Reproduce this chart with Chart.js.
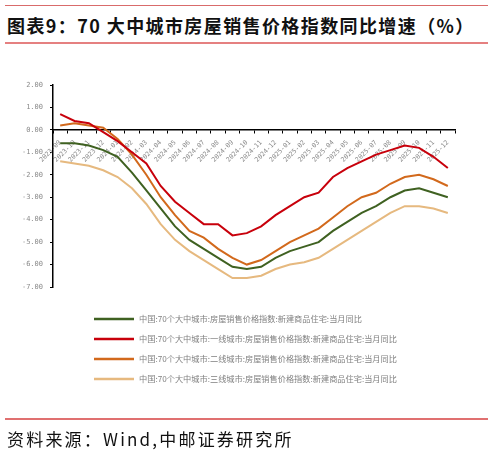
<!DOCTYPE html>
<html lang="zh-CN">
<head>
  <meta charset="UTF-8" />
  <title>图表9：70 大中城市房屋销售价格指数同比增速（%）</title>
  <script src="https://cdn.jsdelivr.net/npm/chart.js"></script>
  <style>
    body {
      margin: 0;
      padding: 0;
      background: #fff;
      font-family: "Noto Sans CJK SC", sans-serif;
    }
    .page {
      position: relative;
      width: 494px;
      height: 454px;
      overflow: hidden;
    }
    .rule {
      position: absolute;
      left: 5px;
      right: 6px;
    }
    .rule-top { top: 5px; border-top: 1px solid #d96b6b; }
    .rule-title { top: 42px; border-top: 2px solid #e58080; }
    .rule-src { top: 418px; border-top: 2px solid #e07070; }
    .title {
      position: absolute;
      left: 7px;
      top: 11px;
      font-size: 18px;
      font-weight: bold;
      letter-spacing: 1.4px;
      line-height: 28px;
      color: #111;
      white-space: nowrap;
    }
    .source {
      position: absolute;
      left: 7px;
      top: 427px;
      font-size: 17px;
      letter-spacing: 2.2px;
      line-height: 24px;
      color: #111;
      white-space: nowrap;
    }
    #chart {
      position: absolute;
      left: 0;
      top: 0;
    }
  </style>
</head>
<body>
  <div class="page">
    <div class="rule rule-top"></div>
    <div class="title">图表9：70 大中城市房屋销售价格指数同比增速（%）</div>
    <div class="rule rule-title"></div>
    <canvas id="chart" width="494" height="454"></canvas>
    <div class="rule rule-src"></div>
    <div class="source">资料来源：Wind,中邮证券研究所</div>
  </div>

  <script>
    const months = [
      '2023-09', '2023-10', '2023-11', '2023-12',
      '2024-01', '2024-02', '2024-03', '2024-04', '2024-05', '2024-06',
      '2024-07', '2024-08', '2024-09', '2024-10', '2024-11', '2024-12',
      '2025-01', '2025-02', '2025-03', '2025-04', '2025-05', '2025-06',
      '2025-07', '2025-08', '2025-09', '2025-10', '2025-11', '2025-12'
    ];

    const cities70 = [-0.6, -0.6, -0.7, -0.9, -1.2, -1.9, -2.7, -3.5, -4.3, -4.9,
      -5.3, -5.7, -6.1, -6.2, -6.1, -5.7, -5.4, -5.2, -5.0, -4.5,
      -4.1, -3.7, -3.4, -3.0, -2.7, -2.6, -2.8, -3.0];
    const tier1 = [0.7, 0.4, 0.3, -0.1, -0.5, -1.0, -1.5, -2.5, -3.2, -3.7,
      -4.2, -4.2, -4.7, -4.6, -4.3, -3.8, -3.4, -3.0, -2.8, -2.1,
      -1.7, -1.4, -1.1, -0.9, -0.7, -0.8, -1.2, -1.7];
    const tier2 = [0.2, 0.3, 0.2, 0.1, -0.4, -1.1, -2.0, -3.0, -3.8, -4.5,
      -4.8, -5.3, -5.7, -6.0, -5.8, -5.4, -5.0, -4.7, -4.4, -3.9,
      -3.4, -3.0, -2.8, -2.4, -2.1, -2.0, -2.2, -2.5];
    const tier3 = [-1.4, -1.5, -1.6, -1.8, -2.1, -2.6, -3.3, -4.2, -4.9, -5.4,
      -5.8, -6.2, -6.6, -6.6, -6.5, -6.2, -6.0, -5.9, -5.7, -5.3,
      -4.9, -4.5, -4.1, -3.7, -3.4, -3.4, -3.5, -3.7];

    const seriesNames = [
      '中国:70个大中城市:房屋销售价格指数:新建商品住宅:当月同比',
      '中国:70个大中城市:一线城市:房屋销售价格指数:新建商品住宅:当月同比',
      '中国:70个大中城市:二线城市:房屋销售价格指数:新建商品住宅:当月同比',
      '中国:70个大中城市:三线城市:房屋销售价格指数:新建商品住宅:当月同比'
    ];
    const seriesColors = ['#3f6121', '#c8000b', '#d2691c', '#e6b97f'];

    // legend rows drawn under the plot, one series per row
    const legendRows = {
      id: 'legendRows',
      afterDraw(chart) {
        const ctx = chart.ctx;
        const area = chart.chartArea;
        chart.data.datasets.forEach((ds, i) => {
          const y = area.bottom + 32 + i * 20;
          const x = area.left + 41;
          ctx.save();
          ctx.strokeStyle = ds.borderColor;
          ctx.lineWidth = 2.5;
          ctx.beginPath();
          ctx.moveTo(x, y);
          ctx.lineTo(x + 40, y);
          ctx.stroke();
          ctx.fillStyle = '#808080';
          ctx.font = '8.2px "Noto Sans CJK SC"';
          ctx.textBaseline = 'middle';
          ctx.fillText(ds.label, x + 45, y);
          ctx.restore();
        });
      }
    };

    const seriesData = [cities70, tier1, tier2, tier3];

    new Chart(document.getElementById('chart').getContext('2d'), {
      type: 'line',
      data: {
        labels: months,
        datasets: seriesData.map((d, i) => ({
          label: seriesNames[i],
          data: d,
          borderColor: seriesColors[i],
          backgroundColor: seriesColors[i],
          borderWidth: 2,
          pointRadius: 0,
          tension: 0,
          fill: false
        }))
      },
      options: {
        responsive: false,
        animation: false,
        layout: {
          padding: { top: 85, bottom: 167, left: 0, right: 39 }
        },
        plugins: {
          legend: { display: false },
          tooltip: { enabled: false }
        },
        scales: {
          x: {
            type: 'category',
            position: { y: 0 },
            offset: true,
            grid: {
              offset: true,
              drawOnChartArea: false,
              drawTicks: true,
              tickLength: 3,
              color: '#000'
            },
            border: { display: true, color: '#000', width: 1.5 },
            ticks: {
              autoSkip: false,
              maxRotation: 45,
              minRotation: 45,
              padding: 6,
              color: '#8a8a8a',
              font: { family: '"DejaVu Sans Mono", monospace', size: 6.5 }
            }
          },
          y: {
            min: -7,
            max: 2,
            afterFit(scale) { scale.width = 53; },
            grid: {
              drawOnChartArea: false,
              drawTicks: true,
              tickLength: 3,
              color: '#000'
            },
            border: { display: true, color: '#000', width: 1.5 },
            ticks: {
              stepSize: 1,
              padding: 7,
              color: '#8a8a8a',
              font: { family: '"DejaVu Sans Mono", monospace', size: 7 },
              callback: (v) => Number(v).toFixed(2)
            }
          }
        }
      },
      plugins: [legendRows]
    });
  </script>
</body>
</html>
